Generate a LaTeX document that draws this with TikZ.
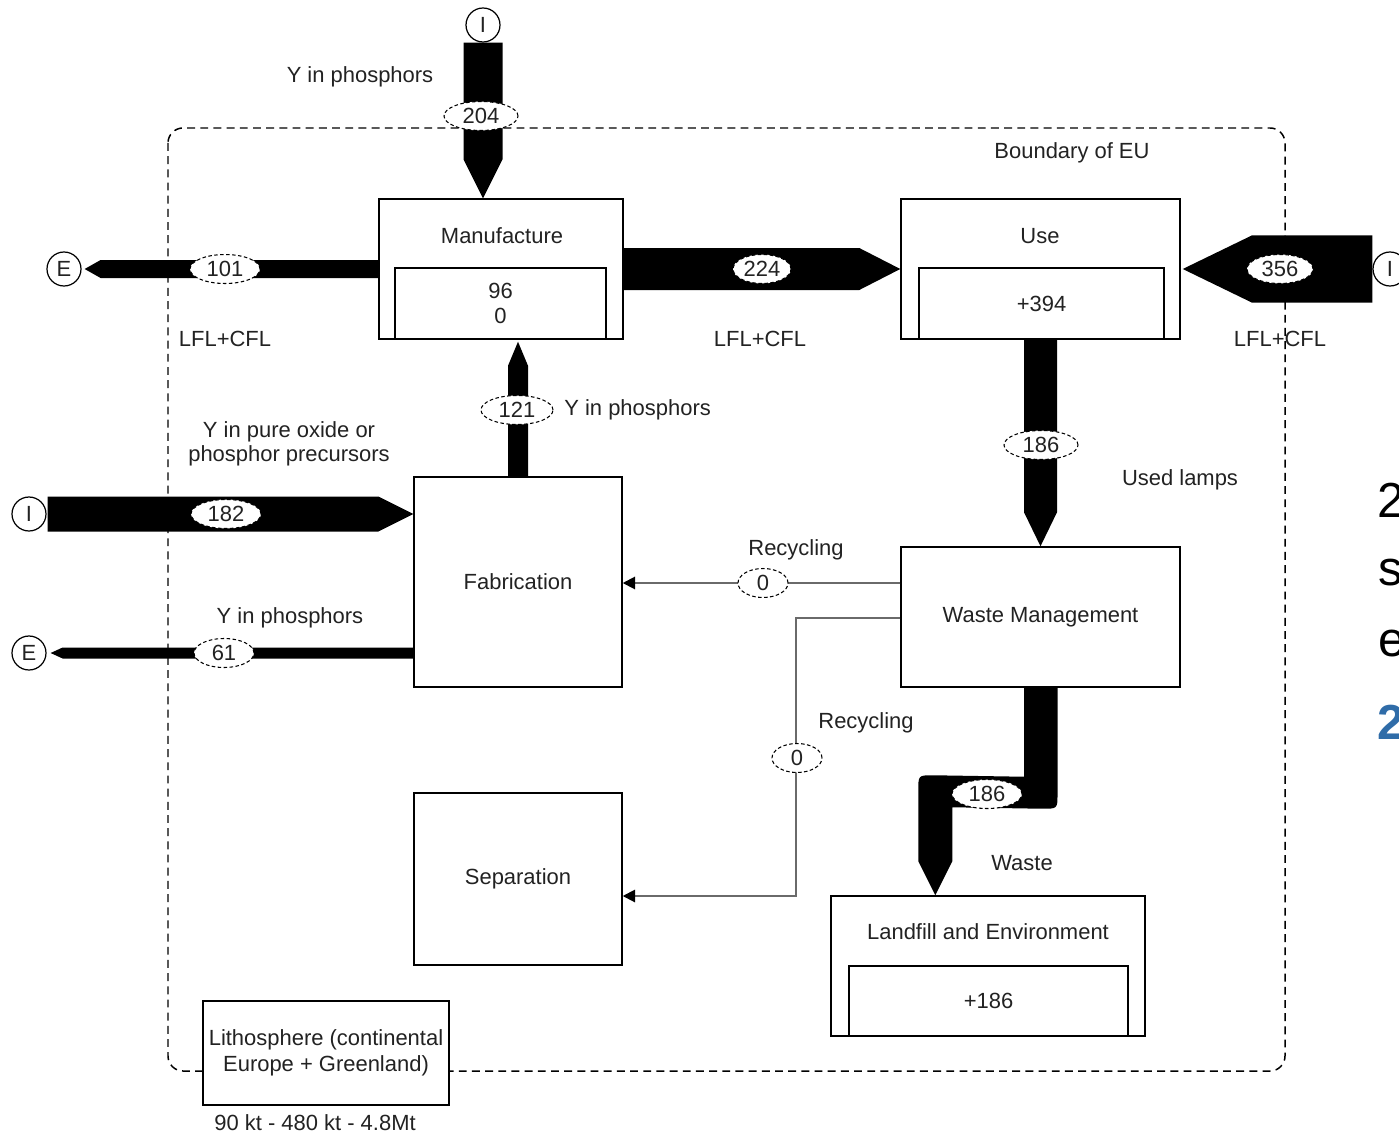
\documentclass[tikz,border=0pt]{standalone}
\usepackage{fontspec}
\setmainfont{Liberation Sans}
\usetikzlibrary{shapes.geometric,arrows.meta,calc}
\definecolor{txt}{HTML}{222222}
\definecolor{recy}{HTML}{6A6A6A}
\definecolor{slideblue}{HTML}{2F6CA8}
\begin{document}
\begin{tikzpicture}[x=0.02cm,y=-0.02cm,
 every node/.style={font=\fontsize{12.5}{14.5}\selectfont,text=txt},
 box/.style={draw=black,line width=0.85pt,inner sep=0pt},
 flab/.style={ellipse,draw=black,dash pattern=on 2pt off 1.4pt,line width=0.6pt,fill=white,inner sep=0pt,minimum height=0.58cm,minimum width=1.4cm},
 term/.style={circle,draw=black,line width=0.7pt,minimum size=0.68cm,inner sep=0pt,fill=white},
 flow/.style={fill=black},
 recyc/.style={draw=recy,line width=1.1pt,-{Triangle[length=7pt,width=7pt,color=black]}},
 bound/.style={draw=black,line width=0.85pt,dash pattern=on 4.5pt off 3pt,rounded corners=0.3cm},
 slide/.style={anchor=west,inner sep=0pt,font=\fontsize{28}{30}\selectfont,text=black}]
\useasboundingbox (0,0) rectangle (1399,1135);
\clip (0,0) rectangle (1399,1135);

% system boundary
\draw[bound] (168,128) rectangle (1285,1071);

% processes
\node[box,minimum width=4.88cm,minimum height=2.8cm] (man) at (501,269) {};
\node (mant) at (502,236) {Manufacture};
\node[box,minimum width=5.58cm,minimum height=2.8cm] (use) at (1040.5,269) {};
\node (uset) at (1040,236) {Use};
\node[box,minimum width=4.16cm,minimum height=4.2cm] (fab) at (518,582) {Fabrication};
\node[box,minimum width=5.58cm,minimum height=2.8cm] (wm) at (1040.5,617) {Waste Management};
\node[box,minimum width=4.16cm,minimum height=3.44cm] (sep) at (518,879) {Separation};
\node[box,minimum width=6.28cm,minimum height=2.8cm] (lf) at (988,966) {};
\node (lft) at (988,932) {Landfill and Environment};
\node[box,fill=white,minimum width=4.92cm,minimum height=2.08cm,align=center] (lith) at (326,1053) {Lithosphere (continental\\Europe + Greenland)};

% import / export terminals
\node[term] (I1) at (483,25) {I};
\node[term] (E1) at (64,269) {E};
\node[term] (I2) at (1390,269) {I};
\node[term] (I3) at (29,514) {I};
\node[term] (E2) at (29,653) {E};

% F1: import 204 into Manufacture
\coordinate (t1) at (man.north -| I1);
\fill[flow] ($(I1.south)+(-19.5,0)$) -- ($(t1)+(-19.5,-39)$) -- (t1) -- ($(t1)+(19.5,-39)$) -- ($(I1.south)+(19.5,0)$) -- cycle;
% F2: export 101
\coordinate (t2) at ($(E1.east)+(3,0)$);
\fill[flow] ($(man.west)+(0,-9)$) -- ($(t2)+(16,-9)$) -- (t2) -- ($(t2)+(16,9)$) -- ($(man.west)+(0,9)$) -- cycle;
% F3: Manufacture -> Use 224
\fill[flow] ($(man.east)+(0,-21)$) -- ($(use.west)+(-41,-21)$) -- (use.west) -- ($(use.west)+(-41,21)$) -- ($(man.east)+(0,21)$) -- cycle;
% F4: import 356 into Use
\coordinate (t4) at ($(use.east)+(2,0)$);
\fill[flow] ($(I2.west)+(0,-33.5)$) -- ($(t4)+(69,-33.5)$) -- (t4) -- ($(t4)+(69,33.5)$) -- ($(I2.west)+(0,33.5)$) -- cycle;
% F5: Fabrication -> Manufacture 121
\coordinate (t5a) at (fab.north |- man.south);
\coordinate (t5) at ($(t5a)+(0,2)$);
\fill[flow] ($(fab.north)+(-10,0)$) -- ($(t5)+(-10,24)$) -- (t5) -- ($(t5)+(10,24)$) -- ($(fab.north)+(10,0)$) -- cycle;
% F6: import 182 into Fabrication
\coordinate (t6) at (fab.west |- I3);
\fill[flow] ($(I3.east)+(1,-17.5)$) -- ($(t6)+(-35,-17.5)$) -- (t6) -- ($(t6)+(-35,17.5)$) -- ($(I3.east)+(1,17.5)$) -- cycle;
% F7: export 61
\coordinate (s7) at (fab.west |- E2);
\coordinate (t7) at ($(E2.east)+(4,0)$);
\fill[flow] ($(s7)+(0,-5.5)$) -- ($(t7)+(12,-5.5)$) -- (t7) -- ($(t7)+(12,5.5)$) -- ($(s7)+(0,5.5)$) -- cycle;
% F8: Use -> Waste Management 186
\fill[flow] ($(use.south)+(-16.5,0)$) -- ($(wm.north)+(-16.5,-34)$) -- (wm.north) -- ($(wm.north)+(16.5,-34)$) -- ($(use.south)+(16.5,0)$) -- cycle;
% F9: Waste Management -> Landfill 186
\coordinate (w0) at (wm.south);
\coordinate (wt) at ($(lf.north west)+(105,0)$);
\fill[flow] ($(w0)+(-16.5,0)$) -- ($(w0)+(-16.5,89)$) -- ($(wt)+(-2,-120)$) .. controls ($(wt)+(-17,-120)$) .. ($(wt)+(-17,-105)$) -- ($(wt)+(-17,-34)$) -- (wt) -- ($(wt)+(17,-34)$) -- ($(wt)+(17,-88)$) -- ($(w0)+(2,121)$) .. controls ($(w0)+(17,121)$) .. ($(w0)+(17,106)$) -- ($(w0)+(17,0)$) -- cycle;

% stock boxes inside processes
\node[box,minimum width=4.22cm,minimum height=1.42cm,align=center] (manin) at (500.5,303.5) {96\\0};
\node[box,minimum width=4.9cm,minimum height=1.42cm] (usein) at (1041.5,303.5) {+394};
\node[box,minimum width=5.58cm,minimum height=1.4cm] (lfin) at (988.5,1001) {+186};

% recycling flows
\coordinate (r1s) at ($(wm.west)+(0,-34)$);
\draw[recyc] (r1s) -- (fab.east |- r1s);
\coordinate (r2s) at ($(wm.west)+(0,1)$);
\coordinate (r2a) at ($(r2s)+(-104,0)$);
\coordinate (r2b) at ($(r2a)+(0,278)$);
\draw[recyc] (r2s) -- (r2a) -- (r2b) -- (sep.east |- r2b);

% flow values
\node[flab,minimum width=1.48cm] (l204) at (481,116) {204};
\node[flab] (l101) at (225,269) {101};
\node[flab,minimum width=1.16cm] (l224) at (762,269) {224};
\node[flab,minimum width=1.32cm] (l356) at (1280,269) {356};
\node[flab,minimum width=1.44cm] (l121) at (517,410) {121};
\node[flab] (l182) at (226,514) {182};
\node[flab,minimum width=1.2cm] (l61) at (224,653) {61};
\node[flab,minimum width=1.48cm] (l186a) at (1041,445) {186};
\node[flab,minimum width=1cm] (l0a) at (763,583) {0};
\node[flab,minimum width=1cm] (l0b) at (797,758) {0};
\node[flab] (l186b) at (987,794) {186};

% flow descriptions
\node (tY1) at (360,77) {Y in phosphors};
\node (tB) at (1072,153) {Boundary of EU};
\node (tL1) at (225,339) {LFL+CFL};
\node (tL2) at (760,339) {LFL+CFL};
\node (tL3) at (1280,339) {LFL+CFL};
\node[anchor=west,inner sep=0pt] (tY2) at (564,410) {Y in phosphors};
\node[align=center,font=\fontsize{12.5}{13.6}\selectfont] (tY3) at (289,444) {Y in pure oxide or\\phosphor precursors};
\node (tU) at (1180,480) {Used lamps};
\node (tR1) at (796,550) {Recycling};
\node (tY4) at (290,618) {Y in phosphors};
\node (tR2) at (866,723) {Recycling};
\node (tW) at (1022,863) {Waste};
\node (tK) at (315,1123) {90 kt - 480 kt - 4.8Mt};

% cropped slide text at the right edge
\node[slide] (sl1) at (1377,500) {2};
\node[slide] (sl2) at (1378,573) {s};
\node[slide] (sl3) at (1378,643) {e};
\node[slide,text=slideblue,font=\fontsize{28}{30}\selectfont\bfseries] (sl4) at (1377,722) {2};
\end{tikzpicture}
\end{document}
